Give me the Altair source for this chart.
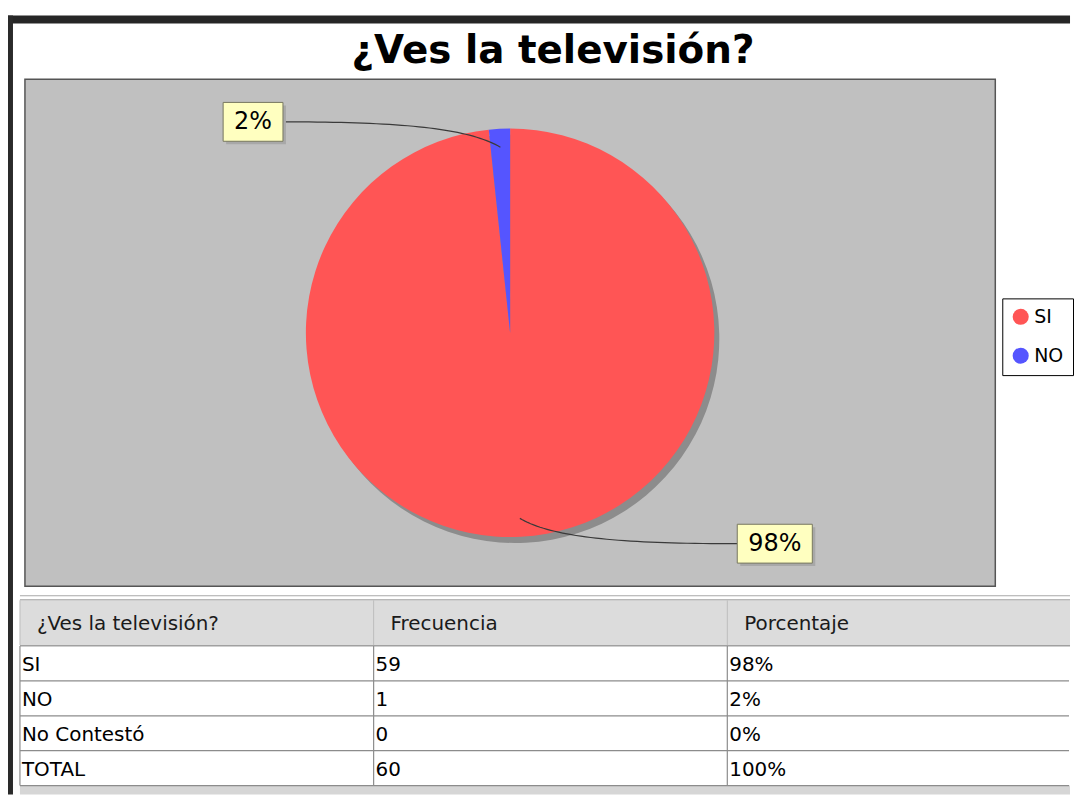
import math
import numpy as np
import pandas as pd
import altair as alt

# ---------------- data ----------------
title_text = "¿Ves la televisión?"
categories = ["SI", "NO"]
counts = [59, 1]
pct_labels = ["98%", "2%"]
colors = ["#FF5555", "#5555FF"]

table_header = ["¿Ves la televisión?", "Frecuencia", "Porcentaje"]
row_names = ["SI", "NO", "No Contestó", "TOTAL"]
row_freq = ["59", "1", "0", "60"]
row_pct = ["98%", "2%", "0%", "100%"]

# ---------------- layout ----------------
FONT = "DejaVu Sans"
PW, PH = 974, 509          # grey plot panel
R = 205                    # pie radius
LABEL_R = 212              # vertical reach of labels
LABEL_X = 228              # horizontal distance of label boxes from centre
LINK_R = 0.91 * R
LABEL_FS = 24
BOX_H = 39
RIGHT = 1049               # right edge of the drawing (view coords)
TW, TH = RIGHT, 196        # table view
HEAD_H = 47
ROW_TOP, ROW_BOT = 47, 187
COL_RANGE = [-5, 1060]

xs = alt.Scale(domain=[-PW / 2, PW / 2], nice=False, zero=False)
ys = alt.Scale(domain=[-PH / 2, PH / 2], nice=False, zero=False)

# ---------------- pie geometry derived from data ----------------
total = sum(counts)
cum = np.cumsum([0] + counts)
char_w = {"%": 0.95}
label_rows, link_rows = [], []
for i, cat in enumerate(categories):
    mid = (cum[i] + counts[i] / 2) / total * 2 * math.pi
    right = math.sin(mid) >= 0
    y0 = math.cos(mid) * LABEL_R
    tw = sum(char_w.get(c, 0.636) for c in pct_labels[i]) * LABEL_FS
    bw = tw + 22
    if right:
        bx1, bx2, ax = LABEL_X, LABEL_X + bw, LABEL_X
    else:
        bx1, bx2, ax = -LABEL_X - bw, -LABEL_X, -LABEL_X
    label_rows.append({"cat": cat, "pct": pct_labels[i],
                       "x1": bx1, "x2": bx2, "y1": y0 - BOX_H / 2, "y2": y0 + BOX_H / 2,
                       "sx1": bx1 + 3, "sx2": bx2 + 3, "sy1": y0 - BOX_H / 2 - 3, "sy2": y0 + BOX_H / 2 - 3,
                       "tx": (bx1 + bx2) / 2, "ty": y0})
    x3, y3 = math.sin(mid) * LINK_R, math.cos(mid) * LINK_R
    p = [(ax, y0), (ax + 0.55 * (x3 - ax), y0), (ax + 0.85 * (x3 - ax), y0 + 0.25 * (y3 - y0)), (x3, y3)]
    for t in np.linspace(0, 1, 41):
        b = [(1 - t) ** 3, 3 * (1 - t) ** 2 * t, 3 * (1 - t) * t ** 2, t ** 3]
        link_rows.append({"cat": cat, "t": float(t),
                          "x": sum(b[k] * p[k][0] for k in range(4)),
                          "y": sum(b[k] * p[k][1] for k in range(4))})

pie_df = pd.DataFrame({"cat": categories, "n": counts, "ord": list(range(len(categories)))})
lab_df = pd.DataFrame(label_rows)
link_df = pd.DataFrame(link_rows)

color_enc = alt.Color(
    "cat:N",
    scale=alt.Scale(domain=categories, range=colors),
    legend=alt.Legend(
        orient="none", legendX=981, legendY=220, title=None,
        strokeColor="#000000", fillColor="#FFFFFF", padding=9,
        symbolType="circle", symbolSize=260, symbolStrokeWidth=0,
        labelFont=FONT, labelFontSize=19, labelColor="#000000",
        labelOffset=4, rowPadding=19, labelLimit=60,
    ),
)

shadow = alt.Chart(pie_df).mark_arc(radius=R, xOffset=5, yOffset=6, color="#8C8C8C").encode(
    theta=alt.Theta("n:Q", stack=True), order=alt.Order("ord:Q"))
pie = alt.Chart(pie_df).mark_arc(radius=R).encode(
    theta=alt.Theta("n:Q", stack=True), color=color_enc, order=alt.Order("ord:Q"))
links = alt.Chart(link_df).mark_line(color="#3A3A3A", strokeWidth=1.2).encode(
    x=alt.X("x:Q", scale=xs, axis=None), y=alt.Y("y:Q", scale=ys, axis=None),
    detail="cat:N", order=alt.Order("t:Q"))
box_shadow = alt.Chart(lab_df).mark_rect(color="#A8A8A8").encode(
    x=alt.X("sx1:Q", scale=xs, axis=None), x2="sx2:Q",
    y=alt.Y("sy1:Q", scale=ys, axis=None), y2="sy2:Q")
boxes = alt.Chart(lab_df).mark_rect(fill="#FFFFC0", stroke="#77775F", strokeWidth=1).encode(
    x=alt.X("x1:Q", scale=xs, axis=None), x2="x2:Q",
    y=alt.Y("y1:Q", scale=ys, axis=None), y2="y2:Q")
texts = alt.Chart(lab_df).mark_text(font=FONT, fontSize=LABEL_FS, color="#000000",
                                    baseline="middle", align="center").encode(
    x=alt.X("tx:Q", scale=xs, axis=None), y=alt.Y("ty:Q", scale=ys, axis=None), text="pct:N")

top = alt.layer(shadow, pie, links, box_shadow, boxes, texts).properties(
    width=PW, height=PH,
    view=alt.ViewBackground(fill="#C0C0C0", stroke="#555555", strokeWidth=1.5),
    title=alt.TitleParams(title_text, font=FONT, fontSize=39, fontWeight="bold",
                          color="#000000", anchor="middle", frame="group", dx=43, offset=8),
)

# ---------------- table ----------------
body_rows = []
for i, r in enumerate(row_names):
    for j, v in enumerate([r, row_freq[i], row_pct[i]]):
        body_rows.append({"row": r, "col": table_header[j], "txt": v})
body_df = pd.DataFrame(body_rows)
head_df = pd.DataFrame({"col": table_header})
rows_df = pd.DataFrame({"row": row_names})
one = alt.InlineData(values=[{"k": 1}])

xt = alt.Scale(domain=table_header, range=COL_RANGE, paddingInner=0, paddingOuter=0)
yt = alt.Scale(domain=row_names, range=[ROW_TOP, ROW_BOT], paddingInner=0, paddingOuter=0)


def band(y1, y2, color, x1=COL_RANGE[0], x2=RIGHT):
    return alt.Chart(one).mark_rect(color=color).encode(
        x=alt.value(x1), x2=alt.value(x2), y=alt.value(y1), y2=alt.value(y2))


head_bg = band(0, HEAD_H, "#DCDCDC")
foot_bg = band(ROW_BOT, TH, "#D6D6D6")
top_line1 = band(-4, -3, "#A8A8A8")
top_line2 = band(0, 1, "#A8A8A8")
head_line = band(HEAD_H - 1, HEAD_H + 0.5, "#A0A0A0")
row_lines = alt.Chart(rows_df).mark_rule(color="#8C8C8C", strokeWidth=1.2).encode(
    y=alt.Y("row:N", scale=yt, axis=None, bandPosition=1),
    x=alt.value(COL_RANGE[0]), x2=alt.value(RIGHT - 1))
col_lines_head = alt.Chart(head_df).mark_rule(color="#BDBDBD", strokeWidth=1).encode(
    x=alt.X("col:N", scale=xt, axis=None, bandPosition=0), y=alt.value(1), y2=alt.value(HEAD_H - 1))
col_lines_body = alt.Chart(head_df).mark_rule(color="#8C8C8C", strokeWidth=1.2).encode(
    x=alt.X("col:N", scale=xt, axis=None, bandPosition=0), y=alt.value(HEAD_H), y2=alt.value(ROW_BOT))
head_text = alt.Chart(head_df).mark_text(font=FONT, fontSize=20, color="#1A1A1A", align="left",
                                         baseline="middle", dx=17).encode(
    x=alt.X("col:N", scale=xt, axis=None, bandPosition=0), y=alt.value(HEAD_H / 2 + 1), text="col:N")
body_text = alt.Chart(body_df).mark_text(font=FONT, fontSize=20, color="#000000", align="left",
                                         baseline="middle", dx=2, dy=2).encode(
    x=alt.X("col:N", scale=xt, axis=None, bandPosition=0),
    y=alt.Y("row:N", scale=yt, axis=None), text="txt:N")
frame_top = band(-586, -578, "#262626", x1=-17, x2=RIGHT)
frame_left = band(-586, TH, "#2A2A2A", x1=-17, x2=-12)

table = alt.layer(head_bg, foot_bg, top_line1, top_line2, head_line, row_lines,
                  col_lines_head, col_lines_body, head_text, body_text,
                  frame_top, frame_left).properties(width=TW, height=TH)

chart = alt.vconcat(top, table, spacing=13, bounds="flush").properties(
    padding={"left": 0, "top": 6, "right": 0, "bottom": 0},
    background="#FFFFFF",
).configure_view(strokeWidth=0)

chart.save("out.html", embed_options={"renderer": "svg", "actions": False})
